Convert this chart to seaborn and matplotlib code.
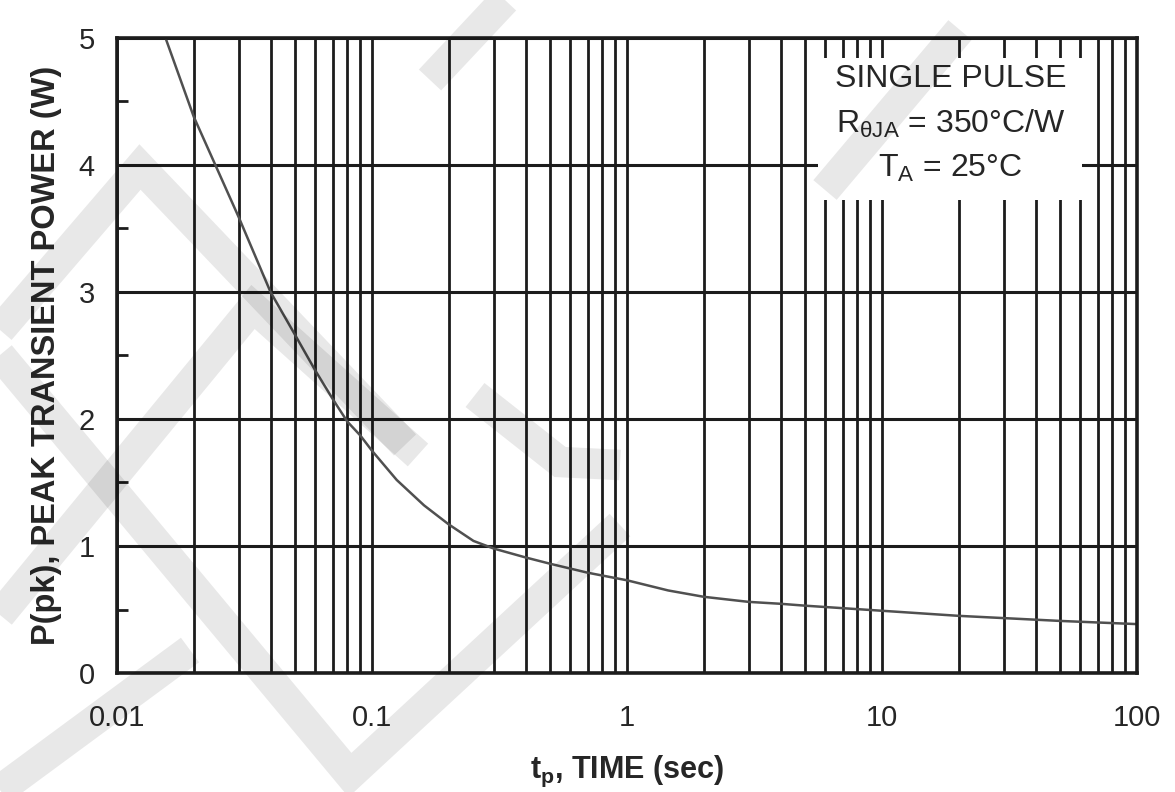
import numpy as np
import matplotlib
matplotlib.use("Agg")
import matplotlib.pyplot as plt
from matplotlib.lines import Line2D
from matplotlib.patches import Rectangle
from matplotlib.ticker import LogLocator, FixedLocator, NullFormatter
import seaborn as sns

# DATA
pulse_time = [0.0155, 0.02, 0.03, 0.04, 0.05, 0.06, 0.07, 0.08, 0.09, 0.1, 0.125, 0.16,
              0.2, 0.25, 0.3, 0.4, 0.5, 0.7, 1, 1.45, 2, 3, 4, 5, 10, 20, 50, 100]
peak_power = [5.0, 4.38, 3.59, 3.0, 2.66, 2.38, 2.16, 1.98, 1.87, 1.75, 1.52, 1.32,
              1.17, 1.04, 0.98, 0.91, 0.86, 0.79, 0.73, 0.65, 0.60, 0.56, 0.545, 0.53,
              0.49, 0.45, 0.41, 0.385]

x_ticks = [0.01, 0.1, 1, 10, 100]
x_tick_labels = ["0.01", "0.1", "1", "10", "100"]
y_ticks = [0, 1, 2, 3, 4, 5]

sns.set_theme(style="white")
plt.rcParams["font.family"] = ["Liberation Sans", "DejaVu Sans"]
plt.rcParams["mathtext.fontset"] = "custom"
plt.rcParams["mathtext.rm"] = "Liberation Sans"
plt.rcParams["mathtext.bf"] = "Liberation Sans:bold"

TXT = "#262626"
LINE = "#1c1c1c"

fig = plt.figure(figsize=(11.75, 7.92), dpi=100, facecolor="white")
ax = fig.add_axes([117 / 1175, 1 - 673 / 792, 1020 / 1175, 635 / 792])

sns.lineplot(x=pulse_time, y=peak_power, ax=ax, color="#505050", linewidth=1.8, zorder=3)

ax.set_xscale("log")
ax.set_xlim(0.01, 100)
ax.set_ylim(0, 5)

ax.xaxis.set_major_locator(FixedLocator(x_ticks))
ax.set_xticklabels(x_tick_labels)
ax.xaxis.set_minor_locator(LogLocator(base=10, subs=np.arange(2, 10)))
ax.xaxis.set_minor_formatter(NullFormatter())
ax.set_yticks(y_ticks)
ax.yaxis.set_minor_locator(FixedLocator(np.arange(0.5, 5, 1.0)))

ax.tick_params(axis="x", which="both", length=0, pad=22, labelsize=21, labelcolor=TXT)
ax.tick_params(axis="y", which="major", length=0, pad=16, labelsize=21, labelcolor=TXT)
ax.tick_params(axis="y", which="minor", left=True, direction="in", length=8, width=2, color=LINE)

ax.grid(True, axis="x", which="both", color=LINE, linewidth=2.0)
ax.grid(True, axis="y", which="major", color=LINE, linewidth=2.2)
ax.set_axisbelow(True)

for s in ax.spines.values():
    s.set_color(LINE)
    s.set_linewidth(2.6)
    s.set_zorder(4)

ax.set_xlabel(r"t$_\mathregular{p}$, TIME (sec)", fontsize=22, fontweight="bold",
              color=TXT, labelpad=16)
ax.set_ylabel("P(pk), PEAK TRANSIENT POWER (W)", fontsize=23.5, fontweight="bold",
              color=TXT, labelpad=12)

# conditions box
ax.add_patch(Rectangle((0.687, 0.745), 0.259, 0.224, transform=ax.transAxes,
                       facecolor="white", edgecolor="none", zorder=2.5))
ax.text(0.817, 0.935, "SINGLE PULSE", transform=ax.transAxes, ha="center", va="center",
        fontsize=23, color=TXT, zorder=5)
ax.text(0.817, 0.865, r"R$_{\mathregular{θJA}}$ = 350°C/W", transform=ax.transAxes,
        ha="center", va="center", fontsize=23, color=TXT, zorder=5)
ax.text(0.817, 0.795, r"T$_\mathregular{A}$ = 25°C", transform=ax.transAxes,
        ha="center", va="center", fontsize=23, color=TXT, zorder=5)

# faint watermark bands over the page
bands = [
    [(0, 330), (140, 167), (405, 445)],
    [(0, 615), (253, 307), (418, 455)],
    [(0, 355), (350, 775), (620, 525)],
    [(0, 790), (190, 650)],
    [(430, 80), (505, 0)],
    [(475, 395), (560, 462), (620, 465)],
    [(825, 190), (960, 30)],
]
for pts in bands:
    xs = [p[0] / 1175 for p in pts]
    ys = [1 - p[1] / 792 for p in pts]
    fig.add_artist(Line2D(xs, ys, transform=fig.transFigure, color="black", alpha=0.09,
                          linewidth=22, solid_joinstyle="miter", solid_capstyle="butt",
                          zorder=10))

fig.savefig("out.png", dpi=100, facecolor="white")
